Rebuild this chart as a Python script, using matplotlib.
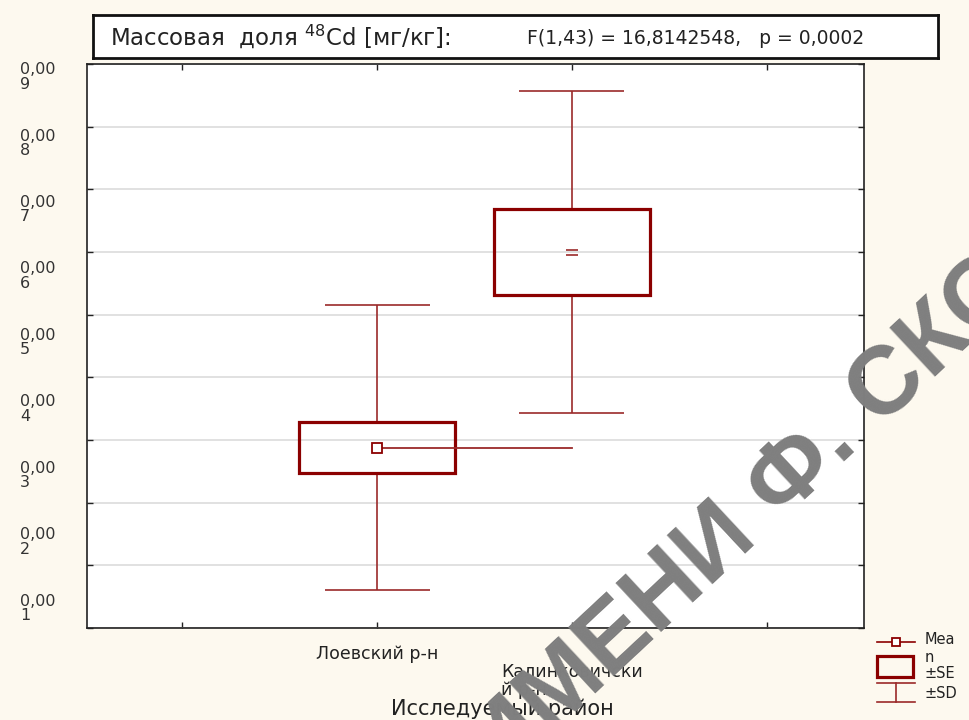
import matplotlib
matplotlib.use("Agg")
import matplotlib.pyplot as plt
import numpy as np
from matplotlib.patches import Rectangle
from matplotlib.path import Path
import matplotlib.transforms as mtransforms

# values
districts = ["Лоевский р-н", "\nКалинковичски\nй р-н"]
means = [0.00288, 0.00600]
se = [0.00040, 0.00069]
sd = [0.00227, 0.00257]
ytick_digits = [9, 8, 7, 6, 5, 4, 3, 2, 1]

title_main = "Массовая  доля $^{48}$Cd [мг/кг]:"
title_stat = "F(1,43) = 16,8142548,   p = 0,0002"
xlabel = "Исследуемый район"
legend_labels = ["Mea", "n", "±SE", "±SD"]
watermark = "ИМЕНИ Ф. СКОРИНЫ"

RED = "#8b0000"
WRED = "#9b2a2a"
BG = "#fdf9ef"

plt.rcParams['font.family'] = ['DejaVu Sans']

fig = plt.figure(figsize=(9.69, 7.2), dpi=100)
fig.patch.set_facecolor(BG)
ax = fig.add_axes([87 / 969, 1 - 628 / 720, 777 / 969, 564 / 720])
ax.set_facecolor("white")

pos = [1, 2]
ax.set_xlim(-0.49, 3.5)
ax.set_ylim(0, 0.009)

ax.set_yticks(np.arange(0, 0.0091, 0.001))
ax.set_yticklabels([])
ax.yaxis.grid(True, color="#dedede", lw=1.3)
ax.set_axisbelow(True)
ax.set_xticks([0, 1, 2, 3])
ax.set_xticklabels([""] + districts + [""], fontsize=12.5, color="#222222",
                   linespacing=1.0)
for lab in ax.get_xticklabels():
    lab.set_multialignment("left")
ax.tick_params(direction="in", length=4, width=1, top=True, right=True,
               colors="#222222", labelcolor="#222222", pad=12)
for lab in ax.get_xticklabels():
    lab.set_color("#222222")
for sp in ax.spines.values():
    sp.set_color("#222222")
    sp.set_linewidth(1.2)

# y labels (Statistica wraps them as "0,00" / digit)
trans_y = mtransforms.blended_transform_factory(fig.transFigure, ax.transData)
label_step = 0.00106
for i, d in enumerate(ytick_digits):
    ax.text(20 / 969, 0.00903 - i * label_step, "0,00\n%d" % d, transform=trans_y,
            ha="left", va="top", fontsize=11.5, color="#333333",
            linespacing=0.95, clip_on=False)

# boxes: mean, ±SE box, ±SD whiskers
box_half = 0.40
cap_half = 0.27
for x, m, s, d in zip(pos, means, se, sd):
    ax.add_patch(Rectangle((x - box_half, m - s), 2 * box_half, 2 * s,
                           fill=False, ec=RED, lw=2.3, zorder=3))
    ax.vlines(x, m + s, m + d, color=WRED, lw=1.2, zorder=2)
    ax.vlines(x, m - d, m - s, color=WRED, lw=1.2, zorder=2)
    ax.hlines([m + d, m - d], x - cap_half, x + cap_half, color=WRED, lw=1.2, zorder=2)

# mean line (drawn flat, as in the source)
ax.plot([pos[0], pos[1]], [means[0], means[0]], color=WRED, lw=1.3, zorder=3)
ax.plot(pos[0], means[0], marker="s", ms=6.5, mfc="white", mec=RED, mew=1.3, zorder=5)
eq_marker = Path([(-1, 0.45), (1, 0.45), (-1, -0.45), (1, -0.45)],
                 [Path.MOVETO, Path.LINETO, Path.MOVETO, Path.LINETO])
ax.plot(pos[1], means[1], marker=eq_marker, ms=8, mec=WRED, mew=1.2, ls="none", zorder=5)

# title box
tb = fig.add_axes([93 / 969, 1 - 58 / 720, 845 / 969, 43 / 720])
tb.set_xticks([])
tb.set_yticks([])
tb.set_facecolor("white")
for sp in tb.spines.values():
    sp.set_linewidth(2)
    sp.set_color("#111111")
fig.text(110 / 969, 1 - 36 / 720, title_main, fontsize=16.5, color="#222222",
         ha="left", va="center")
fig.text(527 / 969, 1 - 38 / 720, title_stat, fontsize=13.5, color="#222222",
         ha="left", va="center")

fig.text(502 / 969, 1 - 709 / 720, xlabel, fontsize=15, color="#222222",
         ha="center", va="center")

# legend drawn in pixel space
lg = fig.add_axes([0, 0, 1, 1], facecolor="none")
lg.set_xlim(0, 969)
lg.set_ylim(720, 0)
lg.axis("off")
lg.plot([877, 915], [642, 642], color=RED, lw=1.2)
lg.plot(896, 642, marker="s", ms=6, mfc="white", mec=RED, mew=1.3)
lg.add_patch(Rectangle((877, 656), 36, 21, fill=False, ec=RED, lw=2.3))
lg.plot([877, 915], [683, 683], color=WRED, lw=1.2)
lg.plot([896, 896], [683, 702], color=WRED, lw=1.2)
lg.plot([877, 915], [702, 702], color=WRED, lw=1.2)
for yy, t in zip([640, 657, 673, 693], legend_labels):
    lg.text(925, yy, t, fontsize=10.5, color="#222222", ha="left", va="center")

# watermark
fig.text(499 / 969, 1 - 783 / 720, watermark, fontsize=70, family="Liberation Sans",
         fontweight="bold", color="#7f7f7f", rotation=43, rotation_mode="anchor",
         ha="left", va="baseline", zorder=20)

fig.savefig("out.png", dpi=100, facecolor=BG)
